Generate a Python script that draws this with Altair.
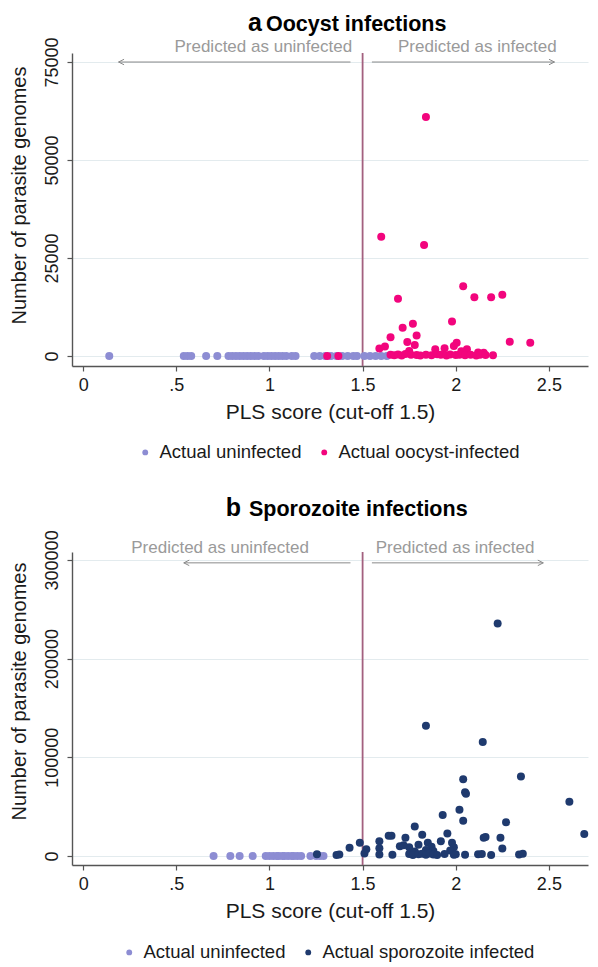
import altair as alt
import pandas as pd

FONT = "Liberation Sans"
TXT = "#1a1a1a"

# shared x axis
X_DOMAIN = [-0.06, 2.71]
X_TICKS = [0, 0.5, 1, 1.5, 2, 2.5]
CUTOFF = [1.5]
ARROW_TEXT = ["Predicted as uninfected", "Predicted as infected"]

# ---- Panel a: oocyst infections ----
a_letter = ["a"]
a_title = ["Oocyst infections"]
a_groups = ["Actual uninfected", "Actual oocyst-infected"]
a_colors = ["#8d8dd3", "#f2057d"]
a_yticks = [0, 25000, 50000, 75000]
a_ydomain = [-2550, 77300]
a_unf_x = [0.14, 0.54, 0.56, 0.58, 0.66, 0.72, 0.78, 0.80, 0.82, 0.84, 0.86, 0.88, 0.90,
           0.92, 0.94, 0.97, 0.99, 1.01, 1.03, 1.05, 1.07, 1.09, 1.12, 1.14, 1.24, 1.27,
           1.30, 1.33, 1.36, 1.39, 1.42, 1.45, 1.47, 1.51, 1.54, 1.57, 1.60, 1.63]
a_unf_y = [0, 0, 0, 0, 0, 0, 0, 0, 0, 0, 0, 0, 0,
           0, 0, 0, 0, 0, 0, 0, 0, 0, 0, 0, 0, 0,
           0, 0, 0, 0, 0, 0, 0, 0, 0, 0, 0, 0]
a_inf_x = [1.31, 1.37, 1.59, 1.62, 1.65, 1.60, 1.84, 1.83, 2.04, 2.10, 2.19, 2.25, 1.69,
           1.98, 1.77, 1.715, 1.79, 2.29, 2.40, 1.74, 2.005, 1.78, 1.94, 1.99, 2.06, 1.89,
           2.03, 1.75, 2.12, 2.15,
           1.65, 1.67, 1.69, 1.71, 1.73, 1.76, 1.79, 1.81, 1.84, 1.87, 1.90, 1.92, 1.95,
           1.97, 2.00, 2.02, 2.05, 2.08, 2.11, 2.13, 2.16, 2.20]
a_inf_y = [0, 0, 1900, 2400, 4800, 30400, 61000, 28300, 17800, 15000, 15000, 15600, 14600,
           8800, 8200, 7200, 5200, 3650, 3400, 3600, 3400, 2800, 1950, 2550, 1700, 1700,
           1200, 1300, 900, 800,
           300, 200, 400, 150, 500, 300, 250, 100, 350, 200, 450, 300, 150,
           400, 250, 300, 200, 350, 150, 300, 250, 200]
a_arrow_y = [75000, 75000]
a_arrow_start = [1.435, 1.55]
a_arrow_end = [0.19, 2.53]
a_text_x = [0.49, 1.69]

# ---- Panel b: sporozoite infections ----
b_letter = ["b"]
b_title = ["Sporozoite infections"]
b_groups = ["Actual uninfected", "Actual sporozoite infected"]
b_colors = ["#8d8dd3", "#1f3a6e"]
b_yticks = [0, 100000, 200000, 300000]
b_ydomain = [-9100, 308000]
b_unf_x = [0.70, 0.79, 0.84, 0.91, 0.98, 1.00, 1.02, 1.04, 1.05, 1.07, 1.08, 1.10,
           1.12, 1.13, 1.15, 1.17, 1.22, 1.25, 1.27, 1.29]
b_unf_y = [0, 0, 0, 0, 0, 0, 0, 0, 0, 0, 0, 0,
           0, 0, 0, 0, 0, 0, 0, 0]
b_inf_x = [1.255, 1.36, 1.375, 1.43, 1.485, 1.52, 1.51, 2.225, 1.84, 2.145, 2.04, 2.35,
           2.05, 2.055, 2.61, 2.69, 2.02, 1.93, 2.04, 2.27, 1.78, 1.955, 1.82, 1.64,
           1.655, 1.73, 2.15, 2.16, 2.24, 1.59, 1.92, 1.85, 1.98, 1.59, 1.70, 1.75,
           2.25, 1.99, 1.72, 1.80, 1.87, 1.84, 1.88, 1.78, 1.97,
           1.59, 1.66, 1.75, 1.77, 1.80, 1.82, 1.84, 1.86, 1.88, 1.90, 1.94, 1.99,
           2.00, 2.05, 2.12, 2.14, 2.19, 2.34, 2.36]
b_inf_y = [1700, 1000, 1500, 8400, 13500, 6800, 2500, 235500, 132000, 115400, 77800, 80500,
           64700, 63200, 55100, 22300, 47000, 41600, 35800, 34100, 29800, 22700, 21600, 20600,
           20600, 18600, 18600, 19200, 18600, 14900, 14900, 13500, 13500, 7800, 9800, 8800,
           7700, 9000, 11000, 11500, 9500, 6000, 5000, 4500, 5500,
           1500, 1200, 2000, 1000, 1800, 2200, 1300, 2500, 1600, 1100, 2000, 1400,
           1700, 1200, 1900, 2100, 1000, 1500, 2300]
b_arrow_y = [297000, 297000]
b_arrow_start = [1.435, 1.55]
b_arrow_end = [0.54, 2.47]
b_text_x = [0.258, 1.57]

title_y_base = {"a": -22, "b": -36}


def panel(letter, title, groups, colors, unf_x, unf_y, inf_x, inf_y, ydomain, yticks,
          arrow_y, arrow_start, arrow_end, text_x, legend_x, legend_y, title_y,
          letter_x, title_x, head_size):
    pts = pd.DataFrame({
        "pls": unf_x + inf_x,
        "genomes": unf_y + inf_y,
        "group": [groups[0]] * len(unf_x) + [groups[1]] * len(inf_x),
    })
    xscale = alt.Scale(domain=X_DOMAIN, nice=False, zero=False)
    yscale = alt.Scale(domain=ydomain, nice=False, zero=False)
    xaxis = alt.Axis(values=X_TICKS, format=".1~f",
                     labelExpr="datum.value == 0.5 ? '.5' : datum.label",
                     title="PLS score (cut-off 1.5)", grid=False,
                     labelPadding=5, titlePadding=7, titleFontSize=21)
    yaxis = alt.Axis(values=yticks, format="d", title="Number of parasite genomes",
                     grid=True, labelAngle=270, labelAlign="center",
                     labelBaseline="bottom", labelPadding=6, titlePadding=14,
                     titleY=title_y)
    points = alt.Chart(pts).mark_circle(size=64, opacity=1).encode(
        x=alt.X("pls:Q", scale=xscale, axis=xaxis),
        y=alt.Y("genomes:Q", scale=yscale, axis=yaxis),
        color=alt.Color("group:N", scale=alt.Scale(domain=groups, range=colors),
                        legend=alt.Legend(orient="none", legendX=legend_x, legendY=legend_y,
                                          direction="horizontal", title=None,
                                          labelFont=FONT, labelFontSize=18.5,
                                          labelColor=TXT, labelLimit=500, symbolSize=34,
                                          symbolType="circle", labelOffset=5,
                                          columnPadding=13, padding=0)),
    )
    cut = alt.Chart(pd.DataFrame({"pls": CUTOFF})).mark_rule(
        color="#a3607f", strokeWidth=1.8).encode(x="pls:Q")
    arrows = alt.Chart(pd.DataFrame({"pls": arrow_start, "pls2": arrow_end,
                                     "genomes": arrow_y})).mark_rule(
        color="#8a8a8a", strokeWidth=1).encode(x="pls:Q", x2="pls2", y="genomes:Q")
    heads = alt.Chart(pd.DataFrame({"pls": arrow_end, "genomes": arrow_y,
                                    "ang": [0, 180]})).mark_point(
        shape="M 1 -0.5 L 0 0 L 1 0.5", filled=False, color="#8a8a8a",
        strokeWidth=1, size=head_size, opacity=1).encode(
        x="pls:Q", y="genomes:Q", angle=alt.Angle("ang:Q", scale=None))
    texts = alt.Chart(pd.DataFrame({"pls": text_x, "genomes": arrow_y,
                                    "txt": ARROW_TEXT})).mark_text(
        align="left", baseline="alphabetic", dy=-10, font=FONT, fontSize=17,
        color="#9a9a9a").encode(x="pls:Q", y="genomes:Q", text="txt:N")
    # invisible spacer reserving room above the title
    spacer = alt.Chart(pd.DataFrame({"t": letter})).mark_rule(opacity=0).encode(
        x=alt.value(letter_x), y=alt.value(-45), y2=alt.value(-40))
    t1 = alt.Chart(pd.DataFrame({"t": letter})).mark_text(
        align="right", baseline="alphabetic", font=FONT, fontSize=25,
        fontWeight="bold", color="#000").encode(
        x=alt.value(letter_x), y=alt.value(title_y_base[letter[0]]), text="t:N")
    t2 = alt.Chart(pd.DataFrame({"t": title})).mark_text(
        align="left", baseline="alphabetic", font=FONT, fontSize=21.5,
        fontWeight="bold", color="#000").encode(
        x=alt.value(title_x), y=alt.value(title_y_base[letter[0]]), text="t:N")
    return alt.layer(cut, points, arrows, heads, texts, spacer, t1, t2).properties(
        width=516, height=313)


pa = panel(a_letter, a_title, a_groups, a_colors, a_unf_x, a_unf_y, a_inf_x, a_inf_y,
           a_ydomain, a_yticks, a_arrow_y, a_arrow_start, a_arrow_end, a_text_x,
           64, 390, 142, 190, 194, 120)
pb = panel(b_letter, b_title, b_groups, b_colors, b_unf_x, b_unf_y, b_inf_x, b_inf_y,
           b_ydomain, b_yticks, b_arrow_y, b_arrow_start, b_arrow_end, b_text_x,
           48, 391, 139, 169, 177, 120)

chart = alt.vconcat(pa, pb, spacing=34).resolve_scale(
    color="independent", y="independent", x="independent"
).resolve_legend(color="independent").properties(
    padding=0, background="white"
).configure_view(stroke=None).configure_axis(
    domainColor="#555555", domainWidth=1.4, tickColor="#555555", tickSize=5,
    tickWidth=1.2, labelFont=FONT, labelFontSize=18, labelColor=TXT,
    titleFont=FONT, titleFontSize=20, titleFontWeight="normal", titleColor=TXT,
    gridColor="#e3ebee", gridWidth=1
)

chart.save("out.html", embed_options={"renderer": "svg", "actions": False})
